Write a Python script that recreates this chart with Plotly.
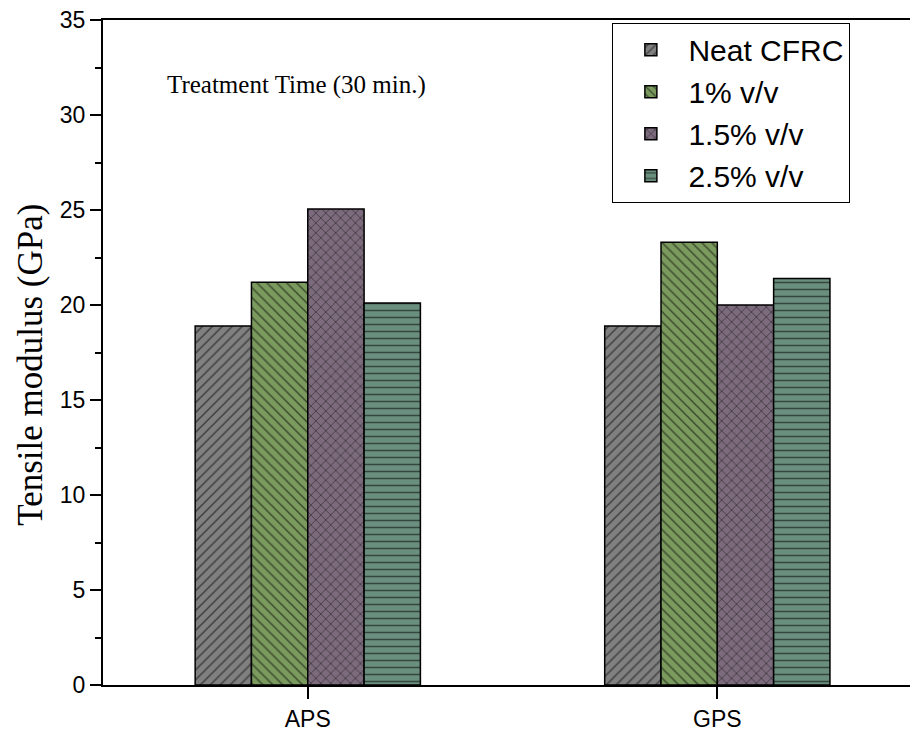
import plotly.graph_objects as go

categories = ["APS", "GPS"]
series_names = ["Neat CFRC", "1% v/v", "1.5% v/v", "2.5% v/v"]
neat_vals = [18.9, 18.9]
v1_vals = [21.2, 23.3]
v15_vals = [25.05, 20.0]
v25_vals = [20.1, 21.4]

colors = ["#808080", "#7b9a5e", "#7c6b7c", "#6a8f7e"]
shapes = ["/", "\\", "x", "-"]

fig = go.Figure()
for name, vals, col, shp in zip(series_names, [neat_vals, v1_vals, v15_vals, v25_vals], colors, shapes):
    fig.add_trace(go.Bar(
        x=categories, y=vals, name=name,
        marker=dict(color=col, line=dict(color="black", width=1.5),
                    pattern=dict(shape=shp, fgcolor="black", bgcolor=col, size=7, solidity=0.22)),
    ))

fig.update_layout(
    width=910, height=729,
    margin=dict(l=95, r=0, t=12, b=52),
    plot_bgcolor="white", paper_bgcolor="white",
    barmode="group", bargap=0.45, bargroupgap=0,
    font=dict(family="Liberation Sans, Arial", color="black"),
    legend=dict(x=0.625, y=0.996, xanchor="left", yanchor="top",
                bordercolor="black", borderwidth=1, bgcolor="white",
                font=dict(size=30, family="Liberation Sans, Arial"),
                tracegroupgap=0, itemwidth=65),
    xaxis=dict(range=[-0.5, 1.49], showline=True, linecolor="black", linewidth=2,
               mirror=True, ticks="outside", ticklen=12, tickwidth=2, tickcolor="black",
               tickfont=dict(size=23), showgrid=False, zeroline=False),
    yaxis=dict(range=[0, 35], dtick=5, showline=True, linecolor="black", linewidth=2,
               ticks="outside", ticklen=11, tickwidth=2, tickcolor="black",
               tickfont=dict(size=23), showgrid=False, zeroline=False,
               ticklabeloverflow="allow",
               minor=dict(dtick=2.5, ticks="outside", ticklen=6, tickwidth=2, tickcolor="black")),
    annotations=[
        dict(text="Tensile modulus (GPa)", textangle=-90, xref="paper", yref="paper",
             x=-0.09, y=0.481, xanchor="center", yanchor="middle", showarrow=False,
             font=dict(family="Liberation Serif, Times New Roman", size=35, color="black")),
        dict(text="Treatment Time (30 min.)", xref="paper", yref="paper",
             x=0.076, y=0.902, xanchor="left", yanchor="middle", showarrow=False,
             font=dict(family="Liberation Serif, Times New Roman", size=25, color="black")),
    ],
)

fig.write_html("out.html")
